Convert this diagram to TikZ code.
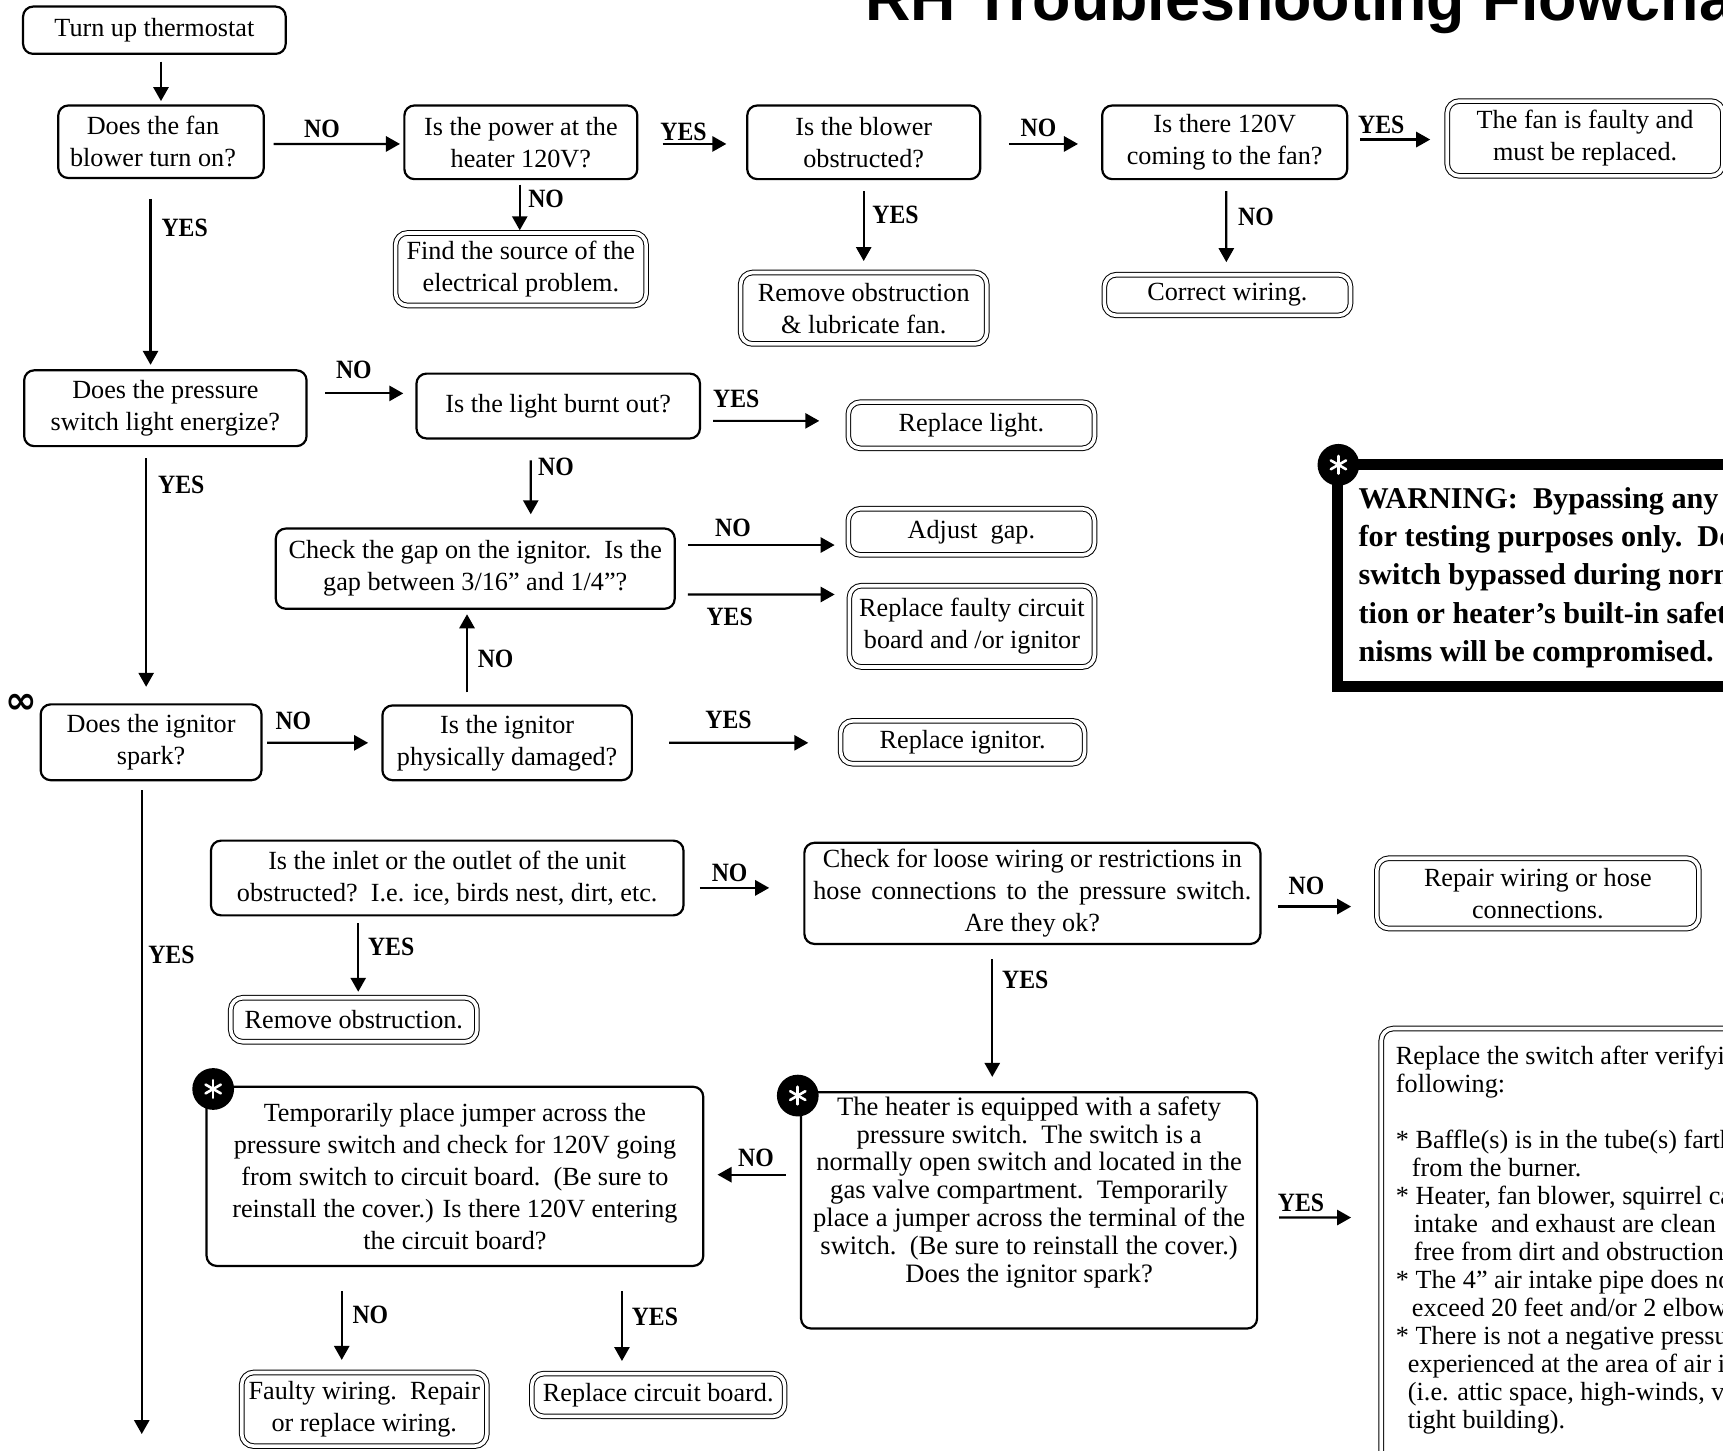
\documentclass[tikz,border=0pt]{standalone}
\usepackage{graphicx}
\usepackage{fontspec}
\setmainfont{Liberation Serif}
\newfontfamily\titlefont{Liberation Sans}
\newfontfamily\symfont{DejaVu Sans}
\usetikzlibrary{arrows.meta}
\def\pu{0.54945pt}
\newcommand\lb[1]{\scalebox{0.9}[1]{#1}}
\newcommand\starmark[3]{%
  \node[starc] (#1) at (#2,#3) {};
  \foreach \a in {90,30,-30}
    \draw[white, line width=1.3pt, line cap=round] (#1.center) ++(\a:4.4pt) -- ++(\a+180:8.8pt);
}
\begin{document}
\begin{tikzpicture}[x=0.54945pt, y=-0.54945pt,
  base/.style={inner sep=0pt, align=center, font=\fontsize{13.1}{16}\selectfont},
  dec/.style={base, draw, line width=1.1pt, rounded corners=5pt},
  res/.style={base, draw, double, double distance=1.8pt, line width=0.5pt, rounded corners=6pt},
  sz/.style 2 args={minimum width=#1*\pu, minimum height=#2*\pu},
  lbl/.style={inner sep=0pt, font=\bfseries\fontsize{13.2}{15}\selectfont},
  arr/.style={line width=1.1pt, -{Triangle[length=7pt,width=7.6pt]}},
  starc/.style={circle, fill=black, minimum size=38*\pu, inner sep=0pt},
]
\useasboundingbox (0,0) rectangle (1568,1320);
\clip (0,0) rectangle (1568,1320);

% title
\node[anchor=base west, inner sep=0pt, font=\titlefont\bfseries\fontsize{31.4}{34}\selectfont] (title) at (787,19) {RH Troubleshooting Flowchart};

% row 1
\node[dec, sz={239}{43}] (thermo) at (140.5,27.5) {Turn up thermostat};
\node[dec, sz={187}{66}] (fan) at (146.5,129) {Does the fan\hspace*{8pt}\\ blower turn on?\hspace*{8pt}};
\node[dec, sz={212}{67}] (power) at (474,129.5) {Is the power at the\\ heater 120V?};
\node[res, sz={228}{66}] (source) at (474,245) {Find the source of the\\ electrical problem.};
\node[dec, sz={212}{67}] (blower) at (786,129.5) {Is the blower\\ obstructed?};
\node[res, sz={224}{65}] (removelub) at (786,280.5) {Remove obstruction\\ \& lubricate fan.};
\node[dec, sz={223}{67}] (v120) at (1114.5,129.5) {Is there 120V\\ coming to the fan?};
\node[res, sz={251}{68}] (faulty) at (1442.5,126) {The fan is faulty and\\ must be replaced.};
\node[res, sz={224}{37}] (correct) at (1117,268.5) {Correct wiring.};

% row 2
\node[dec, sz={257}{69}] (pressure) at (150.5,371.5) {Does the pressure\\ switch light energize?};
\node[dec, sz={258}{59}] (light) at (508,369.5) {Is the light burnt out?};
\node[res, sz={224}{42}] (repllight) at (884,387) {Replace light.};
\node[dec, sz={363}{73}] (gap) at (432.5,517.5) {Check the gap on the ignitor.\ \ Is the\\ gap between 3/16” and 1/4”?};
\node[res, sz={224}{42}] (adjust) at (884,484) {Adjust\ \ gap.};
\node[res, sz={223}{74}] (fcircuit) at (884.5,570) {Replace faulty circuit\\ board and /or ignitor};
\node[dec, sz={201}{69}] (spark) at (137.5,675.5) {Does the ignitor\\ spark?};
\node[dec, sz={227}{68}] (damaged) at (461.5,676) {Is the ignitor\\ physically damaged?};
\node[res, sz={222}{39}] (replign) at (876,675.5) {Replace ignitor.};
\node[inner sep=0pt, font=\symfont\bfseries\fontsize{19}{19}\selectfont] (inf) at (19,641) {∞};

% row 3
\node[dec, sz={430}{68}] (inlet) at (407,799) {Is the inlet or the outlet of the unit\\ obstructed?\ \ I.e. ice, birds nest, dirt, etc.};
\node[res, sz={224}{40}] (removeobst) at (322,928) {Remove obstruction.};
\node[dec, sz={415}{92}] (loose) at (939.5,813) {Check for loose wiring or restrictions in\\ \makebox[219pt][s]{hose connections to the pressure switch.}\\ Are they ok?};
\node[res, sz={293}{64}] (repairhose) at (1399.5,813) {Repair wiring or hose\\ connections.};
\node[dec, sz={415}{215}] (heater) at (936.5,1101.5) {};
\node[base, font=\fontsize{13.3}{13.9}\selectfont] (heatertext) at (936.5,1085) {The heater is equipped with a safety\\ pressure switch.\ \ The switch is a\\ normally open switch and located in the\\ gas valve compartment.\ \ Temporarily\\ place a jumper across the terminal of the\\ switch.\ \ (Be sure to reinstall the cover.)\\ Does the ignitor spark?};
\node[dec, sz={452}{163}] (temp) at (414,1070.5) {Temporarily place jumper across the\\ pressure switch and check for 120V going\\ from switch to circuit board.\ \ (Be sure to\\ reinstall the cover.) Is there 120V entering\\ the circuit board?};
\node[res, sz={223}{67}] (faultywiring) at (331.5,1282.5) {Faulty wiring.\ \ Repair\\ or replace wiring.};
\node[res, sz={230}{39}] (replcb) at (599,1269.5) {Replace circuit board.};
\node[res, sz={343}{404}] (switchbox) at (1428.5,1138) {};
\node[anchor=north west, inner sep=0pt, align=left, font=\fontsize{13.1}{14}\selectfont] (switchtext) at (1270,952) {Replace the switch after verifying the\\ following:\\[14pt]
* Baffle(s) is in the tube(s) farthest\\ \hspace*{8pt}from the burner.\\
* Heater, fan blower, squirrel cage,\\ \hspace*{9pt}intake\ \ and exhaust are clean and\\ \hspace*{9pt}free from dirt and obstructions.\\
* The 4” air intake pipe does not\\ \hspace*{8pt}exceed 20 feet and/or 2 elbows.\\
* There is not a negative pressure\\ \hspace*{6pt}experienced at the area of air intake\\ \hspace*{6pt}(i.e. attic space, high-winds, very\\ \hspace*{6pt}tight building).};

% warning
\node[draw, line width=5.5pt, minimum width=403*\pu, minimum height=202*\pu, inner sep=0pt] (warn) at (1418.5,524) {};
\node[anchor=north west, inner sep=0pt, align=left, font=\bfseries\fontsize{15.1}{19.1}\selectfont] (warntext) at (1236,443) {WARNING:\ \ Bypassing any safety device is\\ for testing purposes only.\ \ Do not leave\\ switch bypassed during normal opera-\\ tion or heater’s built-in safety mecha-\\ nisms will be compromised.};

% stars
\starmark{s1}{1218}{423}
\starmark{s2}{726}{997}
\starmark{s3}{194}{991}

% connectors
\coordinate (bottomend) at (129,1305);
\draw[arr] ([yshift=-6*\pu]thermo.south -| fan.north) -- ([yshift=3*\pu]fan.north);
\draw[arr] ([xshift=8*\pu,yshift=-2*\pu]fan.east) -- ([xshift=-3*\pu,yshift=-1.5*\pu]power.west);
\draw[arr] ([xshift=22*\pu,yshift=-1.5*\pu]power.east) -- ([xshift=-18*\pu,yshift=-1.5*\pu]blower.west);
\draw[arr] ([xshift=-1*\pu,yshift=-4*\pu]power.south) -- ([xshift=-1*\pu,yshift=2*\pu]source.north);
\draw[arr] ([xshift=25*\pu,yshift=-1.5*\pu]blower.east) -- ([xshift=-21*\pu,yshift=-1.5*\pu]v120.west);
\draw[arr] ([yshift=-10*\pu]blower.south) -- ([yshift=10*\pu]removelub.north);
\draw[arr] ([xshift=11*\pu,yshift=2.5*\pu]v120.east) -- ([xshift=-15*\pu,yshift=-1*\pu]faulty.west);
\draw[arr] ([xshift=1.5*\pu,yshift=-10*\pu]v120.south) -- ([xshift=-1*\pu,yshift=11*\pu]correct.north);
\draw[arr] ([xshift=-9.5*\pu,yshift=-18*\pu]fan.south) -- ([xshift=-13.5*\pu,yshift=4*\pu]pressure.north);
\draw[arr] ([xshift=16*\pu,yshift=13.5*\pu]pressure.east) -- ([xshift=-11*\pu,yshift=11.5*\pu]light.west);
\draw[arr] ([xshift=11*\pu,yshift=-13.5*\pu]light.east) -- ([xshift=-26*\pu,yshift=4*\pu]repllight.west);
\draw[arr] ([xshift=-25*\pu,yshift=-19*\pu]light.south) -- ([xshift=50.5*\pu,yshift=12*\pu]gap.north);
\draw[arr] ([xshift=11*\pu,yshift=21.5*\pu]gap.east) -- ([xshift=-12*\pu,yshift=-12*\pu]adjust.west);
\draw[arr] ([xshift=11*\pu,yshift=-23.5*\pu]gap.east) -- ([xshift=-13*\pu,yshift=29*\pu]fcircuit.west);
\draw[arr] ([xshift=-36.5*\pu,yshift=11*\pu]damaged.north) -- ([xshift=-7.5*\pu,yshift=-4*\pu]gap.south);
\draw[arr] ([xshift=-17.5*\pu,yshift=-10*\pu]pressure.south) -- ([xshift=-4.5*\pu,yshift=15*\pu]spark.north);
\draw[arr] ([xshift=4*\pu,yshift=-0.5*\pu]spark.east) -- ([xshift=-12*\pu]damaged.west);
\draw[arr] ([xshift=33*\pu]damaged.east) -- ([xshift=-29*\pu,yshift=-0.5*\pu]replign.west);
\draw[arr] ([xshift=-8.5*\pu,yshift=-8*\pu]spark.south) -- (bottomend);
\draw[arr] ([xshift=14*\pu,yshift=-9*\pu]inlet.east) -- ([xshift=-31*\pu,yshift=5*\pu]loose.west);
\draw[arr] ([xshift=-81*\pu,yshift=-6*\pu]inlet.south) -- ([xshift=4*\pu,yshift=5*\pu]removeobst.north);
\draw[arr] ([xshift=15*\pu,yshift=-12*\pu]loose.east) -- ([xshift=-23*\pu,yshift=-12*\pu]repairhose.west);
\draw[arr] ([xshift=-36.5*\pu,yshift=-13*\pu]loose.south) -- ([xshift=-33.5*\pu,yshift=13*\pu]heater.north);
\draw[arr] ([xshift=-13*\pu,yshift=32.5*\pu]heater.west) -- ([xshift=12*\pu,yshift=1.5*\pu]temp.east);
\draw[arr] ([xshift=-103*\pu,yshift=-22*\pu]temp.south) -- ([xshift=-20.5*\pu,yshift=11*\pu]faultywiring.north);
\draw[arr] ([xshift=152*\pu,yshift=-22*\pu]temp.south) -- ([xshift=-33*\pu,yshift=11*\pu]replcb.north);
\draw[arr] ([xshift=19*\pu,yshift=-6.5*\pu]heater.east) -- ([xshift=-27*\pu,yshift=30*\pu]switchbox.west);

% labels
\node[lbl] (l1) at (293,117) {\lb{NO}};
\node[lbl] (l2) at (622,120) {\lb{YES}};
\node[lbl] (l3) at (497,181) {\lb{NO}};
\node[lbl] (l4) at (945,116) {\lb{NO}};
\node[lbl] (l5) at (815,196) {\lb{YES}};
\node[lbl] (l6) at (1257,114) {\lb{YES}};
\node[lbl] (l7) at (1143,197) {\lb{NO}};
\node[lbl] (l8) at (168,207) {\lb{YES}};
\node[lbl] (l9) at (322,337) {\lb{NO}};
\node[lbl] (l10) at (670,363) {\lb{YES}};
\node[lbl] (l11) at (506,425) {\lb{NO}};
\node[lbl] (l12) at (667,480) {\lb{NO}};
\node[lbl] (l13) at (664,561) {\lb{YES}};
\node[lbl] (l14) at (451,600) {\lb{NO}};
\node[lbl] (l15) at (165,441) {\lb{YES}};
\node[lbl] (l16) at (267,656) {\lb{NO}};
\node[lbl] (l17) at (663,655) {\lb{YES}};
\node[lbl] (l18) at (156,869) {\lb{YES}};
\node[lbl] (l19) at (664,794) {\lb{NO}};
\node[lbl] (l20) at (356,862) {\lb{YES}};
\node[lbl] (l21) at (1189,806) {\lb{NO}};
\node[lbl] (l22) at (933,892) {\lb{YES}};
\node[lbl] (l23) at (688,1054) {\lb{NO}};
\node[lbl] (l24) at (337,1197) {\lb{NO}};
\node[lbl] (l25) at (596,1198) {\lb{YES}};
\node[lbl] (l26) at (1184,1095) {\lb{YES}};
\end{tikzpicture}
\end{document}
